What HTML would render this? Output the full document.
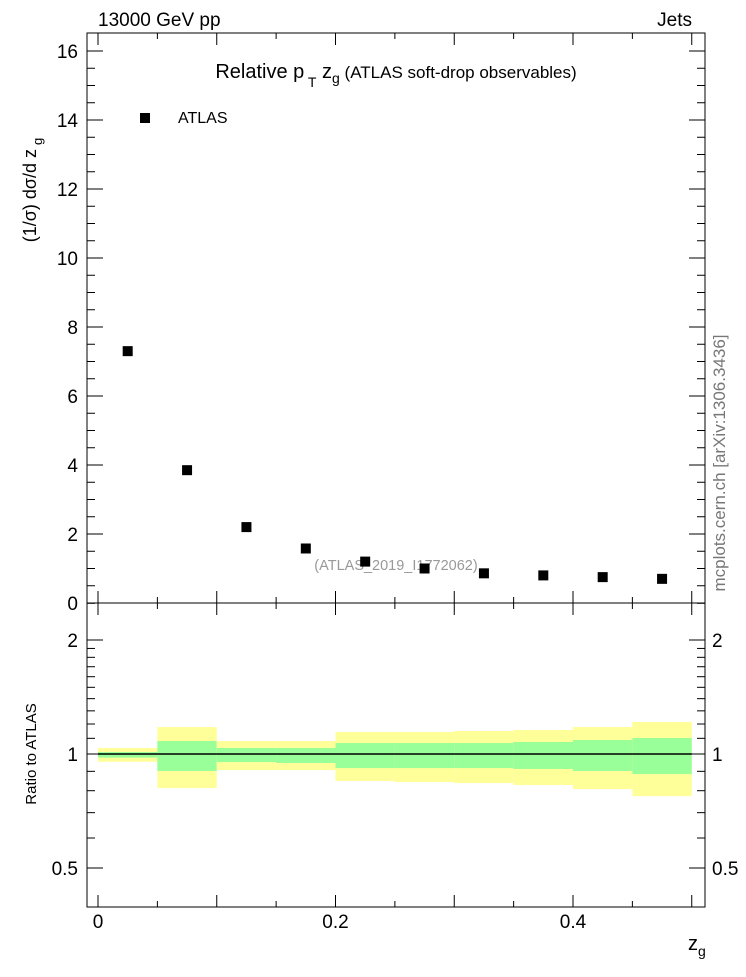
<!DOCTYPE html>
<html><head><meta charset="utf-8"><style>
body{margin:0;background:#fff}
svg{font-family:"Liberation Sans",sans-serif}
</style></head><body>
<svg id="c" width="746" height="972" xmlns="http://www.w3.org/2000/svg">
<text x="98" y="26" font-size="19">13000 GeV pp</text>
<text x="692" y="26" font-size="19" text-anchor="end">Jets</text>
<text x="396" y="78" font-size="20" text-anchor="middle">Relative p<tspan font-size="14" dy="9"> T</tspan><tspan dy="-9"> z</tspan><tspan font-size="14" dy="5">g</tspan><tspan dy="-5" font-size="17"> (ATLAS soft-drop observables)</tspan></text>
<rect x="140" y="113" width="10" height="10" fill="#000"/>
<text x="178" y="123" font-size="16">ATLAS</text>
<text transform="translate(36,190) rotate(-90)" font-size="18" text-anchor="middle">(1/σ) dσ/d z<tspan font-size="13" dy="6" dx="4">g</tspan></text>
<text transform="translate(36,754) rotate(-90)" font-size="15" text-anchor="middle">Ratio to ATLAS</text>
<text transform="translate(725,463) rotate(-90)" font-size="17" fill="#777" text-anchor="middle">mcplots.cern.ch [arXiv:1306.3436]</text>
<text x="396" y="570" font-size="14.5" fill="#999" text-anchor="middle">(ATLAS_2019_I1772062)</text>
<text x="688" y="950" font-size="20">z<tspan font-size="14" dy="6">g</tspan></text>
<g id="bands"></g><g id="pts"></g><g id="axes"></g>
</svg>
<script>
const binEdges=[0,0.05,0.1,0.15,0.2,0.25,0.3,0.35,0.4,0.45,0.5];
const dataValues=[7.3,3.85,2.2,1.58,1.2,1.0,0.86,0.8,0.75,0.7];
const yellowHi=[1.037,1.178,1.082,1.082,1.143,1.143,1.150,1.157,1.178,1.215];
const yellowLo=[0.954,0.813,0.907,0.907,0.849,0.843,0.838,0.828,0.808,0.774];
const greenHi=[1.012,1.082,1.037,1.037,1.069,1.069,1.069,1.076,1.089,1.102];
const greenLo=[0.978,0.902,0.952,0.947,0.918,0.918,0.918,0.913,0.902,0.885];
const xTickLabels=[0,0.2,0.4];
const yTickLabels=[0,2,4,6,8,10,12,14,16];
const rTickLabels=[0.5,1,2];
const NS="http://www.w3.org/2000/svg";
const L=87,R=705,T=33,M=603,B=907;
const X=v=>98+v*1187.5;
const Y=v=>603-v*34.5;
const RY=v=>754-Math.log2(v)*114;
function mk(p,tag,a){const e=document.createElementNS(NS,tag);for(const k in a)e.setAttribute(k,a[k]);document.getElementById(p).appendChild(e);return e;}
for(let i=0;i<dataValues.length;i++){
 const x0=X(binEdges[i]),x1=X(binEdges[i+1]);
 let e=mk('bands','rect',{x:x0,y:RY(yellowHi[i]),width:x1-x0,height:RY(yellowLo[i])-RY(yellowHi[i]),fill:'#ffff99'});
 
 
 e=mk('bands','rect',{x:x0,y:RY(greenHi[i]),width:x1-x0,height:RY(greenLo[i])-RY(greenHi[i]),fill:'#99ff99'});
 
 
 const xc=X((binEdges[i]+binEdges[i+1])/2);
 e=mk('pts','rect',{x:xc-5,y:Y(dataValues[i])-5,width:10,height:10,fill:'#000'});
 
 
}
let ln=mk('axes','line',{x1:X(0),x2:X(0.5),y1:RY(1),y2:RY(1),stroke:'#000','stroke-width':1.5});


for(const [y0,y1] of [[T,M],[M,B]]){
 const f=mk('axes','rect',{x:L,y:y0,width:R-L,height:y1-y0,fill:'none',stroke:'#000','stroke-width':1});
 
 
}
function tk(x1,y1,x2,y2){mk('axes','line',{x1,y1,x2,y2,stroke:'#000','stroke-width':1});}
for(let v=0;v<=0.5001;v+=0.05){const x=X(v);const maj=Math.abs(v*10-Math.round(v*10))<1e-6;const l=maj?12:6;
 for(const [y0,y1] of [[T,M],[M,B]]){tk(x,y1,x,y1-l);tk(x,y0,x,y0+l);}}
for(let v=0;v<=16.01;v+=0.5){const y=Y(v);const l=(v%2===0)?16:8;tk(L,y,L+l,y);tk(R,y,R-l,y);}
[0.5,0.6,0.7,0.8,0.9,1,1.1,1.2,1.3,1.4,1.5,1.6,1.7,1.8,1.9,2,2.5].forEach(v=>{const y=RY(v);if(y<M||y>B)return;const l=rTickLabels.includes(v)?16:8;tk(L,y,L+l,y);tk(R,y,R-l,y);});
xTickLabels.forEach(v=>{const t=mk('axes','text',{x:X(v),y:928,'font-size':19,'text-anchor':'middle'});t.textContent=v;
 
 });
yTickLabels.forEach(v=>{const t=mk('axes','text',{x:78,y:Y(v)+7,'font-size':19,'text-anchor':'end'});t.textContent=v;
 
 });
rTickLabels.forEach(v=>{for(const [x,a] of [[78,'end'],[712,'start']]){const t=mk('axes','text',{x,y:RY(v)+7,'font-size':19,'text-anchor':a});t.textContent=v;
 
 }});
</script>
</body></html>
